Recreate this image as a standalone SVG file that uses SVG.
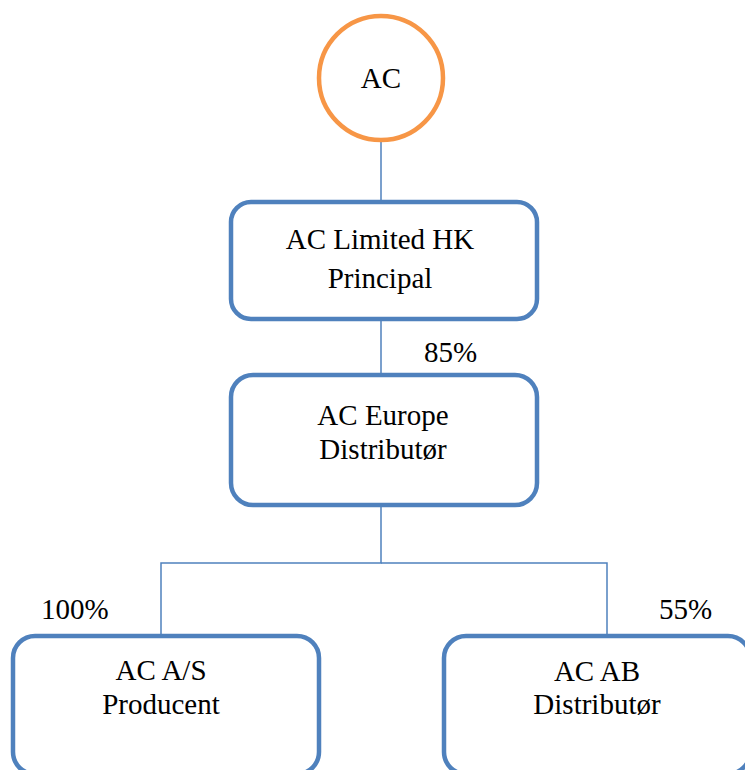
<svg xmlns="http://www.w3.org/2000/svg" width="745" height="770" viewBox="0 0 745 770">
<style>
.box{fill:#fff;stroke:#4F81BD;stroke-width:4.5}
.conn{stroke:#4F81BD;stroke-width:1.5;fill:none}
text{font-family:"Liberation Serif","Times New Roman",serif;font-size:29px;fill:#000}
.c{text-anchor:middle}
</style>
<rect width="745" height="770" fill="#fff"/>
<g id="connectors">
<line class="conn" x1="381" y1="139" x2="381" y2="200"/>
<line class="conn" x1="381" y1="320" x2="381" y2="373"/>
<polyline class="conn" points="381,507 381,563 161,563 161,635"/>
<polyline class="conn" points="381,563 607,563 607,635"/>
</g>
<g id="n-ac">
<circle cx="381" cy="78" r="62" fill="#fff" stroke="#F79646" stroke-width="4.5"/>
<text class="c" x="381" y="88">AC</text>
</g>
<g id="n-hk">
<rect class="box" x="231" y="202" width="306" height="117" rx="20"/>
<text class="c" x="380" y="249">AC Limited HK</text>
<text class="c" x="380" y="288">Principal</text>
</g>
<text x="424" y="362">85%</text>
<g id="n-europe">
<rect class="box" x="231" y="375" width="306" height="130" rx="22"/>
<text class="c" x="383" y="425">AC Europe</text>
<text class="c" x="383" y="459">Distributør</text>
</g>
<text x="41" y="619">100%</text>
<text x="659" y="619">55%</text>
<g id="n-as">
<rect class="box" x="13" y="636" width="306" height="138" rx="22"/>
<text class="c" x="161" y="680">AC A/S</text>
<text class="c" x="161" y="714">Producent</text>
</g>
<g id="n-ab">
<rect class="box" x="444" y="636" width="306" height="138" rx="22"/>
<text class="c" x="597" y="681">AC AB</text>
<text class="c" x="597" y="714">Distributør</text>
</g>
</svg>
